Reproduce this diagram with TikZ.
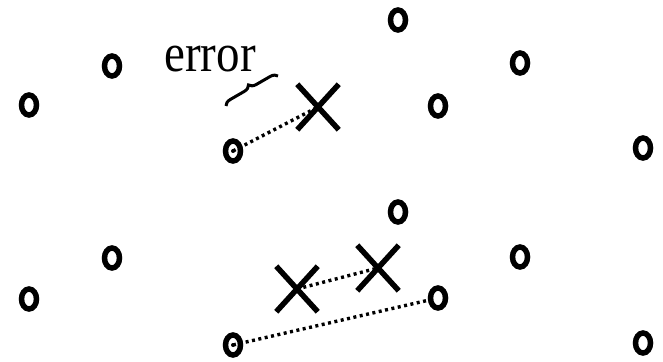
\documentclass[tikz,border=0pt]{standalone}
\usepackage{fontspec}
\setmainfont{Liberation Serif}
\usetikzlibrary{shapes.geometric,shapes.misc,decorations.pathreplacing}
\tikzset{
  site/.style={draw, ellipse, line width=5.5pt, minimum width=15pt, minimum height=20pt, inner sep=0pt},
  est/.style={draw, cross out, line width=5.5pt, minimum width=36pt, minimum height=40pt, inner sep=0pt},
  link/.style={line width=3.4pt, dash pattern=on 3pt off 3.5pt},
}
\begin{document}
\begin{tikzpicture}[x=1pt,y=-1pt]
\useasboundingbox (0,0) rectangle (663,361);
% top group
\node[site] (a1) at (29,105) {};
\node[site] (a2) at (112,66) {};
\node[site] (a3) at (398,20) {};
\node[site] (a4) at (520,63) {};
\node[site] (a5) at (438,106) {};
\node[site] (a6) at (233,151) {};
\node[site] (a7) at (643,148) {};
\node[est] (x1) at (318,107) {};
\fill (a6.center) circle (2);
\draw[link] (a6.center) -- (x1.center);
\coordinate (br1) at (226,106);
\coordinate (br2) at (278,76);
\draw[line width=3pt, decorate, decoration={brace, amplitude=7pt}] (br1) -- (br2);
\node[font=\fontsize{47}{47}\selectfont, inner sep=0pt, anchor=base, yscale=1.15] (err) at (210,71) {error};
% bottom group
\node[site] (b1) at (29,299) {};
\node[site] (b2) at (112,258) {};
\node[site] (b3) at (398,212) {};
\node[site] (b4) at (520,257) {};
\node[site] (b5) at (438,298) {};
\node[site] (b6) at (233,345) {};
\node[site] (b7) at (643,343) {};
\node[est] (y1) at (297,289) {};
\node[est] (y2) at (378,268) {};
\fill (b6.center) circle (2);
\draw[link] (y1.center) -- (y2.center);
\draw[link] (b6.center) -- (b5);
\end{tikzpicture}
\end{document}
